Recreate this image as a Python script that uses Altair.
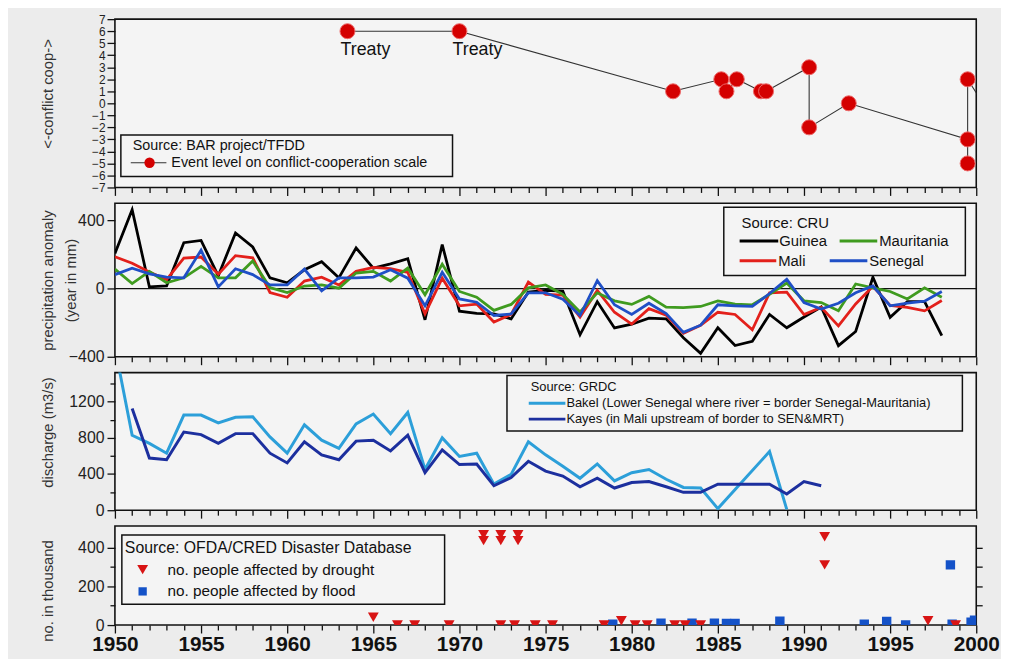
import altair as alt
import pandas as pd

FONT = "Liberation Sans"
BG = "#ececec"
VIEW_FILL = "#f4f4f4"

# ---------------- data ----------------
# Panel 1: BAR events (conflict-cooperation scale)
EVENT_YEAR = [1963.5, 1970.0, 1982.4, 1985.2, 1985.5, 1986.1, 1987.5, 1987.8,
              1990.3, 1990.3, 1992.6, 1999.5, 1999.5, 1999.5]
EVENT_LEVEL = [6, 6, 1, 2, 1, 2, 1, 1, 3, -2, 0, -3, -5, 2]
TAIL_YEAR = [2001.0]
TAIL_LEVEL = [-1.4]
TREATY_YEAR = [1963.5, 1970.0]
TREATY_LEVEL = [6, 6]
TREATY_TEXT = ["Treaty", "Treaty"]

# Panel 2: CRU precipitation anomaly (mm/year), 1950-1998
PRECIP_YEARS = list(range(1950, 1999))
GUINEA = [206, 463, 10, 15, 269, 282, 75, 326, 244, 63,
          34, 110, 158, 63, 238, 120, 145, 175, -183, 258,
          -133, -145, -148, -178, -20, -10, -15, -271, -77, -231,
          -209, -174, -178, -288, -380, -230, -334, -309, -152, -230,
          -167, -108, -335, -252, 66, -169, -76, -76, -276]
MALI = [187, 149, 97, 53, 179, 185, 84, 193, 180, -23,
        -51, 44, 67, 21, 101, 124, 117, 95, -149, 61,
        -101, -91, -196, -152, 38, -34, -38, -168, -11, -139,
        -208, -118, -156, -263, -215, -139, -152, -242, -25, -21,
        -152, -110, -219, -90, 13, -99, -110, -131, -70]
MAURITANIA = [114, 29, 101, 34, 63, 130, 63, 63, 162, 6,
              -23, 15, 21, 2, 91, 101, 44, 120, -36, 143,
              -17, -51, -128, -93, 4, 21, -34, -137, -25, -72,
              -93, -46, -109, -112, -105, -72, -91, -95, -34, 32,
              -72, -82, -130, 27, 4, -17, -61, 4, -51]
SENEGAL = [82, 120, 86, 67, 63, 225, 10, 116, 82, 21,
           21, 114, -13, 63, 63, 67, 110, 61, -101, 95,
           -61, -80, -158, -149, -25, -25, -63, -158, 46, -95,
           -152, -86, -147, -257, -215, -95, -101, -105, -29, 55,
           -82, -120, -86, -25, 15, -101, -86, -74, -17]

# Panel 3: GRDC discharge (m3/s)
BAKEL_YEARS = list(range(1950, 1986)) + [1988, 1989]
BAKEL = [1800, 828, 738, 630, 1051, 1051, 965, 1026, 1033, 810,
         630, 943, 774, 684, 954, 1062, 846, 1080, 450, 799,
         594, 630, 288, 396, 756, 612, 486, 353, 511, 324,
         414, 450, 342, 252, 245, 18, 648, 10]
KAYES_YEARS = list(range(1951, 1992))
KAYES = [1123, 576, 558, 864, 835, 738, 846, 846, 630,
         522, 756, 612, 558, 763, 774, 655, 828, 414, 666,
         504, 511, 270, 360, 540, 432, 378, 259, 353, 245,
         306, 317, 259, 198, 198, 288, 288, 288, 288, 180,
         317, 270]

# Panel 4: OFDA/CRED disasters (thousand people)
DROUGHT_YEAR = [1965.0, 1966.4, 1967.4, 1969.4, 1971.4, 1971.4, 1972.4, 1972.4,
                1973.4, 1973.4, 1972.4, 1973.2, 1974.4, 1975.4, 1978.4, 1979.4,
                1980.2, 1980.9, 1982.5, 1983.1, 1984.0, 1991.2, 1991.2, 1997.2, 1998.8]
DROUGHT_N = [40, 0, 0, 0, 465, 435, 465, 435,
             465, 435, 0, 0, 0, 0, 0, 22,
             0, 0, 0, 0, 0, 455, 310, 22, 0]
FLOOD_YEAR = [1978.9, 1981.7, 1983.5, 1984.8, 1985.5, 1986.0, 1988.6, 1993.5,
              1994.8, 1995.9, 1998.5, 1998.6, 1999.7, 1999.9]
FLOOD_N = [5, 10, 10, 10, 8, 8, 20, 5, 18, 0, 310, 5, 15, 25]

TICK_YEARS = list(range(1950, 2001))

# ---------------- helpers ----------------
one = pd.DataFrame({"k": [0]})
XSCALE = alt.Scale(domain=[1950, 2000], nice=False, zero=False)


def xaxis(labels):
    return alt.Axis(
        values=TICK_YEARS, title=None, domain=False, grid=False,
        labels=labels, format="d",
        labelExpr="datum.value % 5 === 0 ? datum.label : ''",
        labelFlush=False, labelOverlap=False,
        labelFontSize=21, labelFontWeight="bold", labelColor="#111",
        labelPadding=1,
        tickSize={"condition": {"test": "datum.value % 5 === 0", "value": 8}, "value": 5},
    )


def X(labels=False):
    return alt.X("year:Q", scale=XSCALE, axis=xaxis(labels))


def yaxis(values, major, title, title_y, **kw):
    return alt.Axis(
        values=values, title=title, domain=False, grid=False, format="d",
        labelExpr=f"datum.value % {major} === 0 ? datum.label : ''",
        labelOverlap=False, labelPadding=3,
        tickSize={"condition": {"test": f"datum.value % {major} === 0", "value": 8}, "value": 5},
        titleX=-60, titleY=title_y, **kw,
    )


def ltext(x, y, s, size):
    return alt.Chart(one).mark_text(
        align="left", baseline="middle", font=FONT, fontSize=size, color="#111"
    ).encode(x=alt.value(x), y=alt.value(y), text=alt.value(s))


def lrule(x1, x2, y, color, w):
    return alt.Chart(one).mark_rule(color=color, strokeWidth=w).encode(
        x=alt.value(x1), x2=alt.value(x2), y=alt.value(y))


def lbox(x1, x2, y1, y2):
    return alt.Chart(one).mark_rect(fill=VIEW_FILL, stroke="#111", strokeWidth=1.5).encode(
        x=alt.value(x1), x2=alt.value(x2), y=alt.value(y1), y2=alt.value(y2))


def lsym(x, y, shape, color, size):
    return alt.Chart(one).mark_point(shape=shape, filled=True, size=size, color=color,
                                     opacity=1).encode(x=alt.value(x), y=alt.value(y))


W = 870
H1, H2, H3, H4 = 170, 155, 139, 100

# ---------------- panel 1 ----------------
ev = pd.DataFrame({"year": EVENT_YEAR + TAIL_YEAR, "level": EVENT_LEVEL + TAIL_LEVEL})
ev["seq"] = list(range(len(ev)))
pts = pd.DataFrame({"year": EVENT_YEAR, "level": EVENT_LEVEL})
tr = pd.DataFrame({"year": TREATY_YEAR, "level": TREATY_LEVEL, "label": TREATY_TEXT})

Y1 = alt.Y("level:Q", scale=alt.Scale(domain=[-7, 7], nice=False, zero=False),
           axis=alt.Axis(values=list(range(-7, 8)), title="<-conflict  coop->",
                         domain=False, grid=False, labelOverlap=False, labelFontSize=12,
                         labelPadding=2, tickSize=8, titleX=-60, titleY=75))

p1 = alt.layer(
    alt.Chart(ev).mark_line(color="#333", strokeWidth=1.1, clip=True).encode(
        x=X(), y=Y1, order="seq:Q"),
    alt.Chart(pts).mark_circle(size=230, color="#d40000", opacity=1,
                               stroke="#ec6a6a", strokeWidth=1).encode(x=X(), y=Y1),
    alt.Chart(tr).mark_text(align="left", baseline="top", dx=-7, dy=10, fontSize=18,
                            font=FONT, color="#111").encode(x=X(), y=Y1, text="label:N"),
    lbox(6, 341, 117, 159),
    ltext(18, 128, "Source: BAR project/TFDD", 14.5),
    lrule(16, 52, 145, "#333", 1.2),
    lsym(35, 145, "circle", "#d40000", 110),
    ltext(57, 145, "Event level on conflict-cooperation scale", 14.5),
).properties(width=W, height=H1)

# ---------------- panel 2 ----------------
Y2 = alt.Y("value:Q", scale=alt.Scale(domain=[-400, 500], nice=False, zero=False),
           axis=yaxis(list(range(-400, 401, 100)), 200,
                      ["precipitation anomaly", "(year in mm)"], H2 / 2,
                      titleLineHeight=23))

precip = [("Guinea", GUINEA, "#000000"), ("Mali", MALI, "#e3201b"),
          ("Mauritania", MAURITANIA, "#3f9b1f"), ("Senegal", SENEGAL, "#1f4fc6")]

p2_layers = [alt.Chart(one).mark_rule(color="#111", strokeWidth=1.3).encode(y=alt.datum(0))]
for name, vals, col in precip:
    df = pd.DataFrame({"year": PRECIP_YEARS, "value": vals})
    p2_layers.append(alt.Chart(df).mark_line(color=col, strokeWidth=2.8, clip=True).encode(
        x=X(), y=Y2))
p2_layers += [
    lbox(615, 859, 4, 73),
    ltext(633, 20, "Source: CRU", 15),
    lrule(631, 670, 38, "#000000", 3), ltext(671, 38, "Guinea", 15),
    lrule(732, 770, 38, "#3f9b1f", 3), ltext(772, 38, "Mauritania", 15),
    lrule(631, 668, 58, "#e3201b", 3), ltext(670, 58, "Mali", 15),
    lrule(722, 760, 58, "#1f4fc6", 3), ltext(762, 58, "Senegal", 15),
]
p2 = alt.layer(*p2_layers).properties(width=W, height=H2)

# ---------------- panel 3 ----------------
Y3 = alt.Y("q:Q", scale=alt.Scale(domain=[0, 1520], nice=False, zero=False),
           axis=yaxis(list(range(0, 1401, 200)), 400, "discharge (m3/s)", 60))
bak = pd.DataFrame({"year": BAKEL_YEARS, "q": BAKEL})
kay = pd.DataFrame({"year": KAYES_YEARS, "q": KAYES})
p3 = alt.layer(
    alt.Chart(bak).mark_line(color="#2c9fd9", strokeWidth=3, clip=True).encode(x=X(), y=Y3),
    alt.Chart(kay).mark_line(color="#1c2f9e", strokeWidth=3, clip=True).encode(x=X(), y=Y3),
    lbox(396, 856, 3, 59),
    ltext(420, 15, "Source: GRDC", 13),
    lrule(418, 455, 31, "#2c9fd9", 3),
    ltext(456, 31, "Bakel (Lower Senegal where river = border Senegal-Mauritania)", 13),
    lrule(418, 455, 47, "#1c2f9e", 3),
    ltext(456, 47, "Kayes (in Mali upstream of border to SEN&MRT)", 13),
).properties(width=W, height=H3)

# ---------------- panel 4 ----------------
Y4 = alt.Y("n:Q", scale=alt.Scale(domain=[0, 510], nice=False, zero=False),
           axis=yaxis(list(range(0, 401, 100)), 200, "no. in thousand", 65))
Y4R = alt.Y("n:Q", scale=alt.Scale(domain=[0, 510], nice=False, zero=False),
            axis=alt.Axis(orient="right", values=[100, 200, 300, 400], labels=False,
                          title=None, domain=False, grid=False, tickSize=6))
dr = pd.DataFrame({"year": DROUGHT_YEAR, "n": DROUGHT_N})
fl = pd.DataFrame({"year": FLOOD_YEAR, "n": FLOOD_N})
p4 = alt.layer(
    alt.Chart(fl).mark_square(size=90, color="#1452c8", opacity=1, clip=True).encode(
        x=X(True), y=Y4R),
    alt.Chart(dr).mark_point(shape="triangle-down", filled=True, size=120, color="#d81414",
                             opacity=1, clip=True).encode(x=X(True), y=Y4),
    lbox(7, 333, 9, 79),
    ltext(10, 22, "Source: OFDA/CRED Disaster Database", 16),
    lsym(28, 44, "triangle-down", "#d81414", 120),
    ltext(53, 44, "no. people affected by drought", 15.5),
    lsym(28, 66, "square", "#1452c8", 70),
    ltext(53, 66, "no. people affected by flood", 15.5),
).resolve_axis(y="independent").properties(width=W, height=H4)

chart = alt.vconcat(p1, p2, p3, p4, spacing=5).properties(
    background=BG, padding={"left": 32, "top": 1, "right": 0, "bottom": 0}
).configure_view(
    stroke="#111", strokeWidth=1.6, fill=VIEW_FILL
).configure_axis(
    labelFont=FONT, titleFont=FONT, labelColor="#222", titleColor="#333",
    tickColor="#111", tickWidth=1.3, domain=False, grid=False,
    titleFontWeight="normal", titleFontSize=15, labelFontSize=16,
)

chart.save("out.html", embed_options={"renderer": "svg", "actions": False})
